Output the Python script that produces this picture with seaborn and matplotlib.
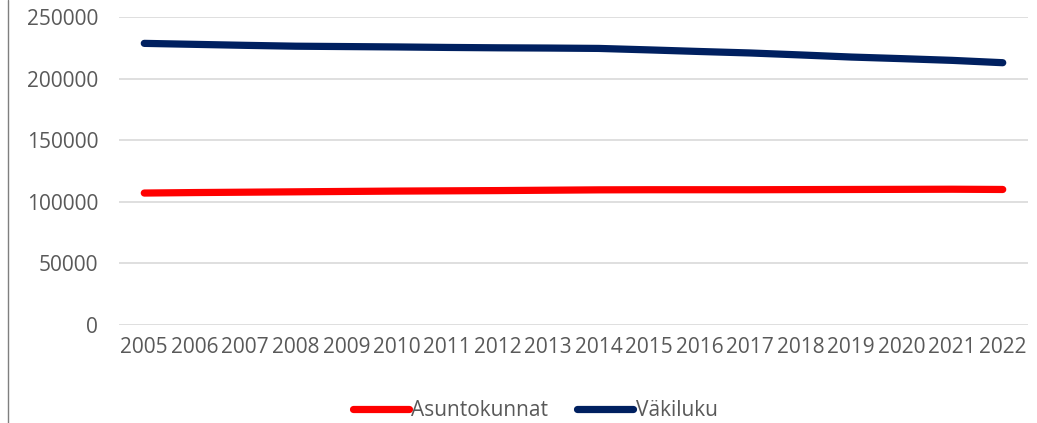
import matplotlib
matplotlib.use("Agg")
import matplotlib.pyplot as plt
import seaborn as sns
import pandas as pd
from matplotlib.lines import Line2D

years = list(range(2005, 2023))
asuntokunnat = [107100, 107500, 107800, 108100, 108400, 108700, 108900, 109100, 109400,
                109700, 109800, 109800, 109800, 109900, 110000, 110100, 110200, 110000]
vakiluku = [228600, 227800, 227000, 226300, 226000, 225700, 225300, 225000, 224800,
            224500, 223300, 222000, 220800, 219200, 217500, 216200, 214800, 212900]
series_names = ["Asuntokunnat", "Väkiluku"]
colors = ["#ff0000", "#002060"]
y_ticks = [0, 50000, 100000, 150000, 200000, 250000]

df = pd.DataFrame({
    "Vuosi": years * 2,
    "Arvo": asuntokunnat + vakiluku,
    "Sarja": [series_names[0]] * len(years) + [series_names[1]] * len(years),
})

sns.set_theme(style="white")
plt.rcParams["font.family"] = ["Open Sans", "DejaVu Sans"]

fig = plt.figure(figsize=(10.37, 4.23), dpi=100)
ax = fig.add_axes([0.1148, 0.2317, 0.9913 - 0.1148, 0.9598 - 0.2317])

sns.lineplot(data=df, x="Vuosi", y="Arvo", hue="Sarja", palette=colors,
             linewidth=5.2, ax=ax, legend=False)
for ln in ax.get_lines():
    ln.set_solid_capstyle("round")

ax.set_xlim(2004.5, 2022.5)
ax.set_ylim(0, 250000)
ax.set_yticks(y_ticks)
ax.set_yticklabels([str(v) for v in y_ticks])
ax.set_xticks(years)
ax.set_xticklabels([str(y) for y in years])
ax.grid(axis="y", color="#d9d9d9", linewidth=1.2)
ax.set_axisbelow(True)
for s in ax.spines.values():
    s.set_visible(False)
ax.tick_params(axis="both", length=0, labelsize=15, labelcolor="#595959")
ax.tick_params(axis="y", pad=15)
ax.tick_params(axis="x", pad=9)
ax.set_xlabel("")
ax.set_ylabel("")

handles = [Line2D([0], [0], color=c, linewidth=5.2, solid_capstyle="round") for c in colors]
fig.legend(handles, series_names, loc="center", bbox_to_anchor=(0.516, 0.03), ncol=2,
           frameon=False, fontsize=15, labelcolor="#595959", handlelength=2.7,
           handletextpad=0.1, columnspacing=1.4)

fig.add_artist(Line2D([7.5 / 1037, 7.5 / 1037], [0, 1], color="#7f7f7f", linewidth=1.0,
                      transform=fig.transFigure))

fig.savefig("out.png", dpi=100)
